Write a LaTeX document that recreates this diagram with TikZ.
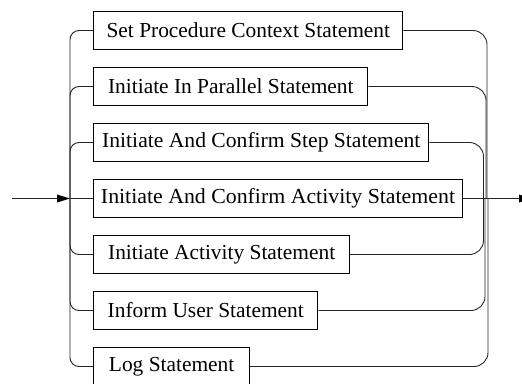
\documentclass[tikz,border=0pt]{standalone}
\usepackage{fontspec}
\setmainfont{Liberation Serif}
\begin{document}
\begin{tikzpicture}[x=1pt,y=-1pt,
  stmt/.style={draw=black,line width=1pt,minimum height=37.6pt,inner xsep=0pt,anchor=west,
    minimum width=#1,font=\fontsize{21.4}{24}\selectfont},
  wire/.style={draw=black!85,line width=0.9pt},
  lcurve/.style={wire,rounded corners=9pt},
  rcurve/.style={wire,rounded corners=14pt}]
\clip (0,0) rectangle (522,383);
\useasboundingbox (0,0) rectangle (522,383);
\node[stmt=309pt] (b1) at (93.3,30.5) {Set Procedure Context Statement};
\node[stmt=274pt] (b2) at (93.3,86.5) {Initiate In Parallel Statement};
\node[stmt=335pt] (b3) at (93.3,142.5) {\scalebox{1.01}[1]{Initiate And Confirm Step Statement}};
\node[stmt=368.4pt] (b4) at (93.3,198.5) {\scalebox{1.02}[1]{Initiate And Confirm Activity Statement}};
\node[stmt=255.7pt] (b5) at (93.3,254.5) {Initiate Activity Statement};
\node[stmt=224pt] (b6) at (93.3,310.5) {Inform User Statement};
\node[stmt=155.7pt] (b7) at (93.3,366.5) {Log Statement};
\coordinate (start) at (12,198.5);
\coordinate (jl) at (70,198.5);
\coordinate (exit) at (532,198.5);
\coordinate (r1) at (487,198.5);
\coordinate (r2) at (486,198.5);
\coordinate (r3) at (483.5,198.5);
\coordinate (r5) at (483.5,198.5);
\coordinate (r6) at (485,198.5);
\coordinate (r7) at (488,198.5);
% entry
\draw[wire] (start) -- (57,198.5);
\fill[black] (jl) -- (57,194.5) -- (57,202.5) -- cycle;
\draw[wire] (jl) -- (b4.west);
\draw[lcurve] (jl) |- (b1.west);
\draw[lcurve] (jl) |- (b2.west);
\draw[lcurve] (jl) |- (b3.west);
\draw[lcurve] (jl) |- (b5.west);
\draw[lcurve] (jl) |- (b6.west);
\draw[lcurve] (jl) |- (b7.west);
% exit
\draw[rcurve] (b1.east) -| (r1);
\draw[rcurve] (b2.east) -| (r2);
\draw[rcurve] (b3.east) -| (r3);
\draw[rcurve] (b5.east) -| (r5);
\draw[rcurve] (b6.east) -| (r6);
\draw[rcurve] (b7.east) -| (r7);
\draw[wire] (b4.east) -- (519,198.5);
\fill[black] (exit) -- (519,194.5) -- (519,202.5) -- cycle;
\end{tikzpicture}
\end{document}
